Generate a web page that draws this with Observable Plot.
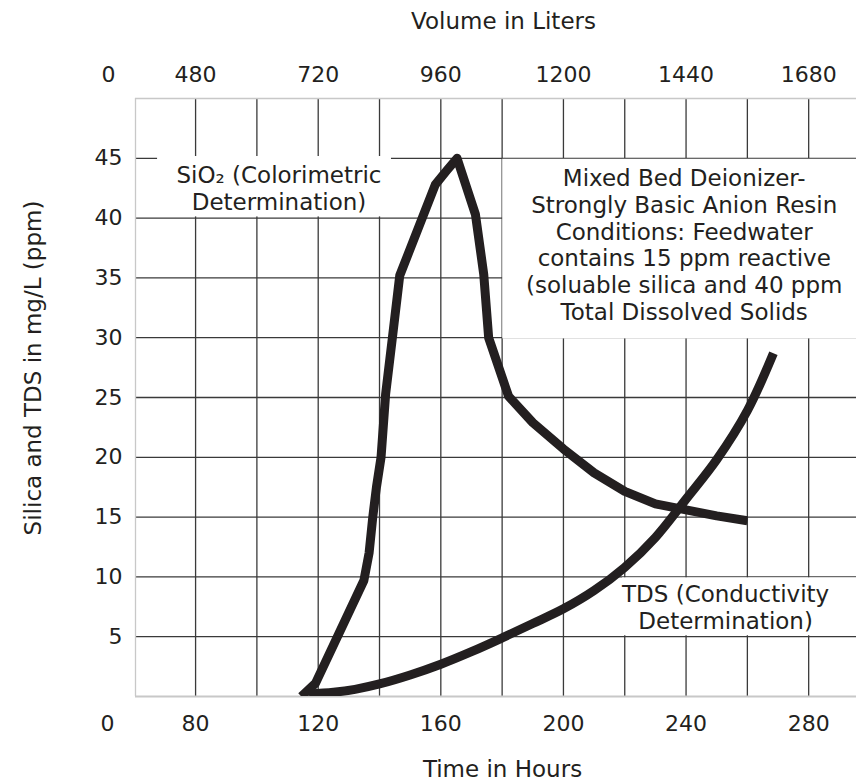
<!DOCTYPE html>
<html>
<head>
<meta charset="utf-8">
<script src="https://cdn.jsdelivr.net/npm/d3@7"></script>
<script src="https://cdn.jsdelivr.net/npm/@observablehq/plot@0.6"></script>
<style>
  html, body { margin: 0; padding: 0; background: #fff; }
  #chart svg { display: block; }
</style>
</head>
<body>
<div id="chart"></div>
<script>
// Tick values
const hourTicks = [80, 120, 160, 200, 240, 280];
const volumeTicks = [480, 720, 960, 1200, 1440, 1680];
const ppmTicks = [5, 10, 15, 20, 25, 30, 35, 40, 45];
const gridHours = [80, 100, 120, 140, 160, 180, 200, 220, 240, 260, 280];
const originLabel = "0";

// SiO2 (Colorimetric) series
const silicaHours  = [114.5, 119.1, 134.9, 136.6, 137.8, 139, 140.5, 142, 144.2, 146.6, 158.2, 162, 165.3, 171.3, 174, 175.6, 182.1, 190, 200, 210, 220, 230, 240, 250, 260];
const silicaValues = [0, 1.1, 9.7, 12, 15, 17.5, 20, 25.3, 30, 35.2, 42.8, 44, 45, 40.3, 35.3, 30, 25.1, 22.9, 20.7, 18.7, 17.15, 16.1, 15.6, 15.1, 14.7];

// TDS (Conductivity) series
const tdsHours  = [117, 125, 132, 140, 150, 160, 170, 180, 190, 200, 210, 220, 230, 240, 250, 260, 268.5];
const tdsValues = [0.2, 0.35, 0.6, 1.05, 1.8, 2.7, 3.75, 4.9, 6.1, 7.33, 8.86, 10.8, 13.3, 16.5, 19.8, 23.9, 28.7];

// Texts
const xTitle = "Time in Hours";
const topTitle = "Volume in Liters";
const yTitle = "Silica and TDS in mg/L (ppm)";
const labels = [
  {text: "SiO\u2082 (Colorimetric\nDetermination)", x: 107.2, y: 42.5, x1: 67.6, x2: 143.9, y1: 40.1, y2: 45.15},
  {text: "Mixed Bed Deionizer-\nStrongly Basic Anion Resin\nConditions: Feedwater\ncontains 15 ppm reactive\n(soluable silica and 40 ppm\nTotal Dissolved Solids", x: 239.4, y: 37.8, x1: 180.2, x2: 300, y1: 29.9, y2: 44.92},
  {text: "TDS (Conductivity\nDetermination)", x: 252.9, y: 7.46, x1: 219.3, x2: 300, y1: 5.08, y2: 9.92}
];

const xDomain = [60.4, 295.6];
const yDomain = [0, 50];

const silica = silicaHours.map((h, i) => ({h, v: silicaValues[i]}));
const tds = tdsHours.map((h, i) => ({h, v: tdsValues[i]}));

const ink = "#231f20";
const gridColor = "#3a3a3a";
const borderColor = "#c8c8c8";

const chart = Plot.plot({
  width: 856,
  height: 782,
  marginLeft: 135,
  marginRight: 0,
  marginTop: 98,
  marginBottom: 86,
  x: {domain: xDomain, axis: null},
  y: {domain: yDomain, axis: null},
  style: {fontFamily: "'DejaVu Sans', sans-serif", background: "#fff", color: ink},
  marks: [
    Plot.ruleX(gridHours, {stroke: gridColor, strokeWidth: 1.3}),
    Plot.ruleY(ppmTicks, {stroke: gridColor, strokeWidth: 1.3}),
    Plot.rect(labels, {x1: "x1", x2: "x2", y1: "y1", y2: "y2", fill: "#fff", clip: true}),
    Plot.ruleX([xDomain[0]], {stroke: borderColor, strokeWidth: 1.3}),
    Plot.ruleY([yDomain[1]], {stroke: borderColor, strokeWidth: 1.3}),
    Plot.ruleY([yDomain[0]], {stroke: borderColor, strokeWidth: 2}),
    Plot.line(silica, {x: "h", y: "v", stroke: ink, strokeWidth: 9, strokeLinejoin: "round", strokeLinecap: "butt", clip: true}),
    Plot.line(tds, {x: "h", y: "v", stroke: ink, strokeWidth: 9, strokeLinejoin: "round", strokeLinecap: "butt", curve: "catmull-rom", clip: true}),
    Plot.axisX(hourTicks, {anchor: "bottom", tickSize: 0, tickPadding: 18.5, fontSize: 22, label: null, fill: ink}),
    Plot.axisX(hourTicks, {anchor: "top", tickSize: 0, tickPadding: 16.8, fontSize: 22, label: null, fill: ink,
      tickFormat: d => String(volumeTicks[hourTicks.indexOf(d)])}),
    Plot.axisY(ppmTicks, {anchor: "left", tickSize: 0, tickPadding: 13, fontSize: 22, label: null, fill: ink}),
    Plot.text([originLabel], {text: d => d, frameAnchor: "bottom-left", textAnchor: "middle", dx: -28, dy: 27.5, lineAnchor: "middle", fontSize: 22, fill: ink}),
    Plot.text([originLabel], {text: d => d, frameAnchor: "top-left", textAnchor: "middle", dx: -27, dy: -23.7, lineAnchor: "middle", fontSize: 22, fill: ink}),
    Plot.text([xTitle], {text: d => d, frameAnchor: "bottom", textAnchor: "middle", dx: 6.5, dy: 73, lineAnchor: "middle", fontSize: 23, fill: ink}),
    Plot.text([topTitle], {text: d => d, frameAnchor: "top", textAnchor: "middle", dx: 7.5, dy: -77, lineAnchor: "middle", fontSize: 23, fill: ink}),
    Plot.text([yTitle], {text: d => d, frameAnchor: "left", textAnchor: "middle", dx: -102, dy: -29.5, rotate: -90, lineAnchor: "middle", fontSize: 23, fill: ink}),
    Plot.text(labels, {x: "x", y: "y", text: "text", lineAnchor: "middle", textAnchor: "middle", lineHeight: 1.16, fontSize: 23, fill: ink})
  ]
});

document.getElementById("chart").appendChild(chart);
</script>
</body>
</html>
